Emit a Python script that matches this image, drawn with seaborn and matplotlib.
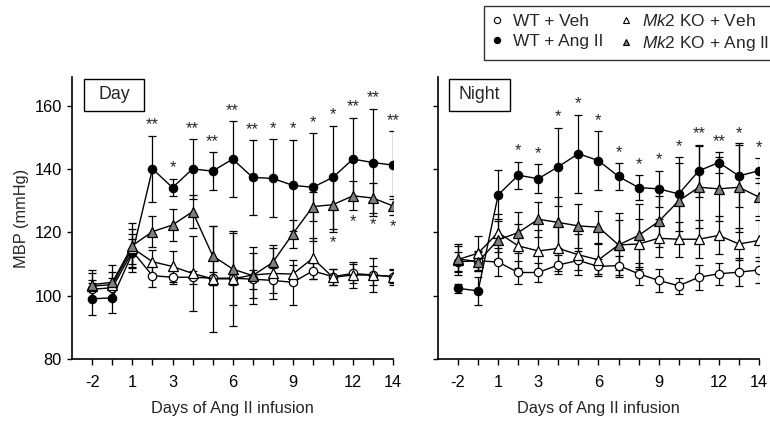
import matplotlib
matplotlib.use("Agg")
import matplotlib.pyplot as plt
from matplotlib.lines import Line2D
from matplotlib.patches import Rectangle
import seaborn as sns
import numpy as np

sns.set_theme(style="ticks")
plt.rcParams["font.family"] = ["Liberation Sans", "DejaVu Sans"]
plt.rcParams["mathtext.fontset"] = "custom"
plt.rcParams["mathtext.rm"] = "Liberation Sans"
plt.rcParams["mathtext.it"] = "Liberation Sans:italic"

# x categories (days of Ang II infusion, no day 0)
days = [-2, -1, 1, 2, 3, 4, 5, 6, 7, 8, 9, 10, 11, 12, 13, 14]
labeled_days = [-2, 1, 3, 6, 9, 12, 14]

# ---- Day ----
wt_veh_day = [102.0, 102.5, 114.0, 106.3, 105.8, 105.8, 105.5, 105.5, 105.2, 104.8, 104.2, 107.8, 106.0, 107.0, 106.5, 106.0]
wt_veh_day_sem = [3.0, 3.0, 4.0, 3.5, 2.0, 2.0, 2.0, 2.0, 3.0, 4.0, 7.0, 2.5, 2.5, 3.0, 3.0, 2.5]
wt_ang_day = [99.0, 99.3, 113.4, 140.0, 134.1, 140.0, 139.3, 143.1, 137.3, 137.0, 134.8, 134.2, 137.3, 143.1, 142.0, 141.2]
wt_ang_day_sem = [5.0, 4.8, 6.0, 10.5, 2.8, 9.4, 6.0, 12.0, 11.7, 12.3, 14.4, 17.0, 16.3, 13.0, 17.0, 10.6]
ko_veh_day = [103.0, 103.5, 115.0, 110.7, 109.2, 107.0, 105.3, 105.3, 106.5, 107.0, 106.8, 111.8, 105.8, 106.5, 106.5, 106.0]
ko_veh_day_sem = [4.0, 4.0, 6.0, 3.8, 4.8, 11.8, 16.8, 15.0, 9.0, 8.0, 3.0, 6.5, 2.5, 4.0, 5.5, 2.0]
ko_ang_day = [103.5, 104.2, 115.8, 120.2, 122.3, 126.5, 112.6, 108.4, 106.3, 110.5, 119.5, 128.1, 128.7, 131.5, 130.8, 128.3]
ko_ang_day_sem = [4.5, 5.5, 7.0, 4.8, 5.0, 5.3, 9.4, 11.3, 7.0, 5.5, 4.5, 4.5, 8.5, 4.6, 4.7, 3.0]
day_stars_top = ["", "", "", "**", "*", "**", "**", "**", "**", "*", "*", "*", "*", "**", "**", "**"]
day_stars_bottom = ["", "", "", "", "", "", "", "", "", "", "", "", "*", "*", "*", "*"]

# ---- Night ----
wt_veh_night = [110.7, 111.0, 110.6, 107.3, 107.3, 109.7, 111.1, 109.2, 109.5, 106.9, 104.8, 103.1, 105.8, 106.9, 107.4, 108.1]
wt_veh_night_sem = [3.0, 3.0, 4.5, 3.5, 3.0, 3.0, 3.0, 2.5, 3.0, 3.5, 3.5, 2.5, 4.0, 3.5, 4.5, 4.0]
wt_ang_night = [102.3, 101.5, 131.8, 138.0, 136.9, 140.7, 144.8, 142.6, 137.6, 134.1, 133.7, 132.1, 139.4, 142.0, 137.8, 139.4]
wt_ang_night_sem = [1.4, 4.4, 7.7, 4.3, 4.5, 12.3, 12.3, 9.2, 4.2, 4.0, 5.7, 11.6, 8.2, 3.2, 9.8, 4.0]
ko_veh_night = [111.4, 113.4, 119.9, 115.7, 114.1, 114.9, 112.9, 111.3, 116.0, 116.3, 118.1, 117.8, 117.8, 119.0, 116.3, 117.4]
ko_veh_night_sem = [5.0, 5.5, 6.0, 7.0, 6.5, 7.0, 6.5, 5.0, 10.0, 8.0, 6.0, 5.5, 6.0, 6.0, 5.0, 6.5]
ko_ang_night = [111.6, 110.7, 117.6, 119.9, 124.1, 123.1, 122.0, 121.6, 116.0, 119.0, 123.4, 129.9, 134.2, 133.7, 134.2, 131.1]
ko_ang_night_sem = [4.0, 3.0, 6.0, 6.5, 5.5, 8.0, 7.0, 5.0, 8.0, 10.0, 8.0, 12.0, 13.0, 10.0, 14.0, 6.0]
night_stars_top = ["", "", "", "*", "*", "*", "*", "*", "*", "*", "*", "*", "**", "**", "*", "*"]

groups = ["WT + Veh", "WT + Ang II", r"$\mathit{Mk2}$ KO + Veh", r"$\mathit{Mk2}$ KO + Ang II"]
styles = {
    groups[0]: dict(marker="o", markerfacecolor="white"),
    groups[1]: dict(marker="o", markerfacecolor="black"),
    groups[2]: dict(marker="^", markerfacecolor="white"),
    groups[3]: dict(marker="^", markerfacecolor="#808080"),
}

pos = np.arange(len(days))


def draw_panel(ax, series, title, stars_top, stars_bottom=None):
    for g, (m, s) in zip(groups, series):
        ax.errorbar(pos, m, yerr=s, fmt="none", ecolor="black", elinewidth=0.9,
                    capsize=2.8, capthick=0.9, zorder=1)
        st = styles[g]
        ms = 6.0 if st["marker"] == "o" else 6.6
        sns.lineplot(x=pos, y=m, ax=ax, color="black", linewidth=1.0,
                     marker=st["marker"], markersize=ms,
                     markerfacecolor=st["markerfacecolor"], markeredgecolor="black",
                     markeredgewidth=0.9, errorbar=None, zorder=2)
    m_top, s_top = series[1]
    for i, t in enumerate(stars_top):
        if t:
            ax.annotate(t, (pos[i], m_top[i] + s_top[i]), xytext=(0, 4.5),
                        textcoords="offset points", ha="center", va="baseline",
                        fontsize=12, annotation_clip=False)
    if stars_bottom is not None:
        m_b, s_b = series[3]
        for i, t in enumerate(stars_bottom):
            if t:
                ax.annotate(t, (pos[i], m_b[i] - s_b[i]), xytext=(0, -11.5),
                            textcoords="offset points", ha="center", va="baseline",
                            fontsize=12)

    ax.set_xlim(-1, 15)
    ax.set_ylim(80, 169)
    ax.set_yticks([80, 100, 120, 140, 160])
    ax.set_xticks(pos)
    ax.set_xticklabels([str(d) if d in labeled_days else "" for d in days])
    ax.set_xlabel("Days of Ang II infusion", fontsize=11.8, labelpad=8)
    sns.despine(ax=ax)
    for sp in ["left", "bottom"]:
        ax.spines[sp].set_linewidth(1.2)
        ax.spines[sp].set_color("black")
    ax.tick_params(axis="both", direction="out", width=1.0,
                   labelsize=11.8, colors="black")
    ax.tick_params(axis="x", length=4.5, pad=7)
    ax.tick_params(axis="y", length=3.5, pad=4)
    ax.grid(False)

    ax.add_patch(Rectangle((0.035, 0.88), 0.19, 0.113, transform=ax.transAxes,
                           fill=False, edgecolor="black", linewidth=1.0, clip_on=False))
    ax.text(0.035 + 0.095, 0.9365, title, transform=ax.transAxes, ha="center",
            va="center", fontsize=12.8)


fig = plt.figure(figsize=(7.7, 4.24), dpi=100)
ax1 = fig.add_axes([0.0939, 0.1533, 0.4165, 0.6651])
ax2 = fig.add_axes([0.5688, 0.1533, 0.4169, 0.6651])

draw_panel(ax1, [(wt_veh_day, wt_veh_day_sem), (wt_ang_day, wt_ang_day_sem),
                 (ko_veh_day, ko_veh_day_sem), (ko_ang_day, ko_ang_day_sem)],
           "Day", day_stars_top, day_stars_bottom)
draw_panel(ax2, [(wt_veh_night, wt_veh_night_sem), (wt_ang_night, wt_ang_night_sem),
                 (ko_veh_night, ko_veh_night_sem), (ko_ang_night, ko_ang_night_sem)],
           "Night", night_stars_top)

ax1.set_ylabel("MBP (mmHg)", fontsize=11.8, labelpad=4)
ax2.set_yticklabels([])
ax2.set_ylabel("")

handles = [Line2D([], [], linestyle="none", marker=styles[g]["marker"], markersize=4.5,
                  markerfacecolor=styles[g]["markerfacecolor"], markeredgecolor="black",
                  markeredgewidth=0.8) for g in groups]
leg = fig.legend(handles, groups, ncol=2, loc="upper left", bbox_to_anchor=(0.629, 0.986),
                 frameon=True, fancybox=False, edgecolor="black", fontsize=12.4,
                 handlelength=0.7, handletextpad=0.55, columnspacing=1.0,
                 borderpad=0.4, labelspacing=0.3, borderaxespad=0)
leg.get_frame().set_linewidth(1.0)

fig.savefig("out.png", dpi=100)
